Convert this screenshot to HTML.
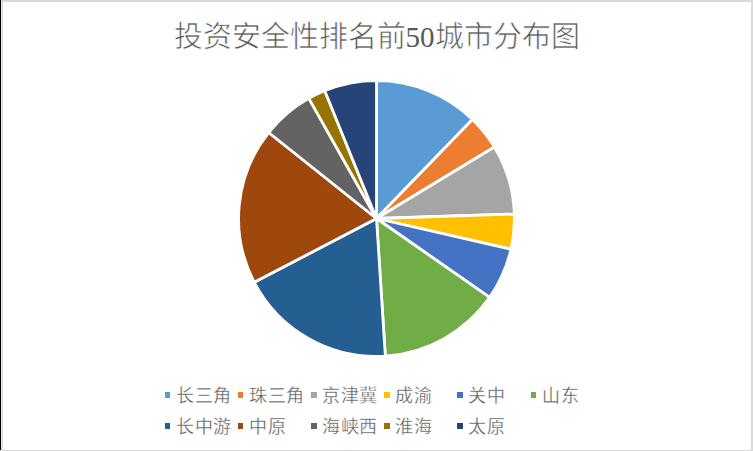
<!DOCTYPE html>
<html lang="zh-CN"><head><meta charset="utf-8"><style>
html,body{margin:0;padding:0;}
body{width:753px;height:451px;position:relative;overflow:hidden;background:#fff;font-family:"Liberation Sans",sans-serif;}
.b{position:absolute;}
.title{position:absolute;left:0;width:753px;top:19px;text-align:center;-webkit-text-stroke:0.6px #fff;font-family:"Liberation Serif",serif;font-size:29px;line-height:36px;color:#595959;white-space:nowrap;}
.mk{position:absolute;width:5px;height:6px;}
.lt{position:absolute;font-size:18px;line-height:22px;color:#595959;white-space:nowrap;letter-spacing:0.7px;-webkit-text-stroke:0.3px #fff;}
svg{position:absolute;left:0;top:0;}
</style></head><body>
<div class="b" style="left:0;top:0;width:753px;height:2px;background:#d9d9d9"></div>
<div class="b" style="left:0;top:0;width:1px;height:451px;background:#000"></div>
<div class="b" style="left:1px;top:2px;width:1px;height:449px;background:#e6e6e6"></div>
<div class="b" style="left:2px;top:2px;width:1px;height:449px;background:#d9d9d9"></div>
<div class="b" style="left:751px;top:0;width:2px;height:451px;background:#d9d9d9"></div>
<div class="b" style="left:0;top:450px;width:753px;height:1px;background:#d9d9d9"></div>
<div class="title">投资安全性排名前<span style="-webkit-text-stroke:0">50</span>城市分布图</div>
<svg width="753" height="451" viewBox="0 0 753 451">
<g stroke="#fff" stroke-width="2.8" stroke-linejoin="round">
<path d="M376.5 218.5L376.50 80.60A137.90 137.90 0 0 1 472.43 119.44Z" fill="#5B9BD5"/>
<path d="M376.5 218.5L472.43 119.44A137.90 137.90 0 0 1 494.42 147.01Z" fill="#ED7D31"/>
<path d="M376.5 218.5L494.42 147.01A137.90 137.90 0 0 1 514.33 214.08Z" fill="#A5A5A5"/>
<path d="M376.5 218.5L514.33 214.08A137.90 137.90 0 0 1 510.94 249.19Z" fill="#FFC000"/>
<path d="M376.5 218.5L510.94 249.19A137.90 137.90 0 0 1 489.60 297.39Z" fill="#4472C4"/>
<path d="M376.5 218.5L489.60 297.39A137.90 137.90 0 0 1 385.34 356.12Z" fill="#70AD47"/>
<path d="M376.5 218.5L385.34 356.12A137.90 137.90 0 0 1 254.24 282.28Z" fill="#255E91"/>
<path d="M376.5 218.5L254.24 282.28A137.90 137.90 0 0 1 268.69 132.52Z" fill="#9E480E"/>
<path d="M376.5 218.5L268.69 132.52A137.90 137.90 0 0 1 308.83 98.35Z" fill="#636363"/>
<path d="M376.5 218.5L308.83 98.35A137.90 137.90 0 0 1 324.75 90.68Z" fill="#997300"/>
<path d="M376.5 218.5L324.75 90.68A137.90 137.90 0 0 1 376.50 80.60Z" fill="#264478"/>
</g>
</svg>
<div class="mk" style="left:165px;top:392px;width:5px;background:#5B9BD5"></div><div class="lt" style="left:176px;top:385px">长三角</div>
<div class="mk" style="left:238px;top:392px;width:5px;background:#ED7D31"></div><div class="lt" style="left:249px;top:385px">珠三角</div>
<div class="mk" style="left:311px;top:392px;width:6px;background:#A5A5A5"></div><div class="lt" style="left:322px;top:385px">京津冀</div>
<div class="mk" style="left:384px;top:392px;width:6px;background:#FFC000"></div><div class="lt" style="left:395px;top:385px">成渝</div>
<div class="mk" style="left:457px;top:392px;width:6px;background:#4472C4"></div><div class="lt" style="left:468px;top:385px">关中</div>
<div class="mk" style="left:531px;top:392px;width:5px;background:#70AD47"></div><div class="lt" style="left:542px;top:385px">山东</div>
<div class="mk" style="left:165px;top:423px;width:5px;background:#255E91"></div><div class="lt" style="left:176px;top:416px">长中游</div>
<div class="mk" style="left:238px;top:423px;width:5px;background:#9E480E"></div><div class="lt" style="left:249px;top:416px">中原</div>
<div class="mk" style="left:311px;top:423px;width:6px;background:#636363"></div><div class="lt" style="left:322px;top:416px">海峡西</div>
<div class="mk" style="left:384px;top:423px;width:6px;background:#997300"></div><div class="lt" style="left:395px;top:416px">淮海</div>
<div class="mk" style="left:457px;top:423px;width:6px;background:#264478"></div><div class="lt" style="left:468px;top:416px">太原</div>
</body></html>
